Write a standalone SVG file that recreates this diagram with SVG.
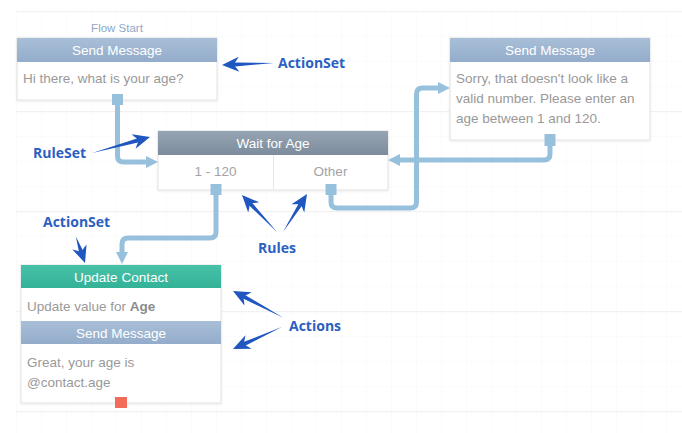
<svg xmlns="http://www.w3.org/2000/svg" width="682" height="433" viewBox="0 0 682 433">
<defs>
<pattern id="minor" x="16" y="11" width="25" height="25" patternUnits="userSpaceOnUse">
<path d="M0,0 H25 M0,0 V25" fill="none" stroke="#f8f8f8" stroke-width="1"/>
</pattern>
<pattern id="major" x="16" y="11" width="100" height="100" patternUnits="userSpaceOnUse">
<path d="M0,0.5 H100" fill="none" stroke="#f1f1f1" stroke-width="1.5"/>
</pattern>
<linearGradient id="gSend" x1="0" y1="0" x2="0" y2="1">
<stop offset="0" stop-color="#a9bfd8"/><stop offset="1" stop-color="#93acca"/>
</linearGradient>
<linearGradient id="gRule" x1="0" y1="0" x2="0" y2="1">
<stop offset="0" stop-color="#96a4b3"/><stop offset="1" stop-color="#7d8c9d"/>
</linearGradient>
<linearGradient id="gUpd" x1="0" y1="0" x2="0" y2="1">
<stop offset="0" stop-color="#47c2a9"/><stop offset="1" stop-color="#33b298"/>
</linearGradient>
<filter id="sh" x="-10%" y="-10%" width="120%" height="130%">
<feDropShadow dx="0" dy="1" stdDeviation="1" flood-color="#000" flood-opacity="0.08"/>
</filter>
</defs>
<style>
.box{fill:#fff;stroke:#e2e2e2;stroke-width:1}
.hd{font-family:"Liberation Sans",Arial,sans-serif;font-size:13.5px;fill:#fff;text-anchor:middle}
.bd{font-family:"Liberation Sans",Arial,sans-serif;font-size:13.5px;fill:#999}
.rl{font-family:"Liberation Sans",Arial,sans-serif;font-size:13.5px;fill:#a3a3a3;text-anchor:middle}
.sq{fill:#97c0dd}
.conn{fill:none;stroke:#97c0dd;stroke-width:5;stroke-linejoin:round}
.ah{fill:#97c0dd}
.note{font-family:"Open Sans","DejaVu Sans",sans-serif;font-weight:bold;font-size:14px;fill:#2b5fc2}
.narrow{fill:#1f56c0}
</style>
<rect width="682" height="433" fill="#fff"/>
<rect x="16" y="11" width="666" height="422" fill="url(#minor)"/>
<rect x="16" y="11" width="666" height="422" fill="url(#major)"/>

<text x="117" y="32" font-family="'Liberation Sans',Arial,sans-serif" font-size="11.5" fill="#8ea7c9" text-anchor="middle">Flow Start</text>

<g id="node-send1">
<rect class="box" x="17" y="38" width="200" height="62" filter="url(#sh)"/>
<rect x="17" y="38" width="200" height="24" fill="url(#gSend)"/>
<text class="hd" x="117" y="55">Send Message</text>
<text class="bd" x="23" y="83">Hi there, what is your age?</text>
<rect class="sq" x="112" y="94" width="11" height="11"/>
</g>

<g id="node-ruleset">
<rect class="box" x="158" y="131" width="230" height="59" filter="url(#sh)"/>
<rect x="158" y="131" width="230" height="24" fill="url(#gRule)"/>
<text class="hd" x="273" y="148">Wait for Age</text>
<line x1="273.5" y1="155" x2="273.5" y2="190" stroke="#e6e6e6"/>
<text class="rl" x="215.5" y="176">1 - 120</text>
<text class="rl" x="330.5" y="176">Other</text>
<rect class="sq" x="210.5" y="184" width="11" height="11"/>
<rect class="sq" x="325.5" y="184" width="11" height="11"/>
</g>

<g id="node-send2">
<rect class="box" x="450" y="38" width="200" height="102" filter="url(#sh)"/>
<rect x="450" y="38" width="200" height="24" fill="url(#gSend)"/>
<text class="hd" x="550" y="55">Send Message</text>
<text class="bd" x="456" y="83">Sorry, that doesn't look like a</text>
<text class="bd" x="456" y="103">valid number. Please enter an</text>
<text class="bd" x="456" y="123">age between 1 and 120.</text>
<rect class="sq" x="544.5" y="134" width="11" height="12"/>
</g>

<g id="node-actionset2">
<rect class="box" x="21" y="265" width="200" height="138" filter="url(#sh)"/>
<rect x="21" y="265" width="200" height="23" fill="url(#gUpd)"/>
<text class="hd" x="121" y="282">Update Contact</text>
<text class="bd" x="27" y="311">Update value for <tspan font-weight="bold" fill="#8c8c8c">Age</tspan></text>
<rect x="21" y="321" width="200" height="23" fill="url(#gSend)"/>
<text class="hd" x="121" y="338">Send Message</text>
<text class="bd" x="27" y="367">Great, your age is</text>
<text class="bd" x="27" y="387">@contact.age</text>
<rect x="115" y="397" width="12" height="11" fill="#f26b5b"/>
</g>

<g id="connectors">
<path class="conn" d="M117.5,105 V156 Q117.5,162 123.5,162 H147"/>
<polygon class="ah" points="158,162 146,156 146,168"/>
<path class="conn" d="M216,195 V232 Q216,238 210,238 H128 Q122,238 122,244 V253"/>
<polygon class="ah" points="122,264 116,252 128,252"/>
<path class="conn" d="M331,195 V202 Q331,208 337,208 H410.5 Q416.5,208 416.5,202 V94 Q416.5,88 422.5,88 H439"/>
<polygon class="ah" points="450,88 438,82 438,94"/>
<path class="conn" d="M550,146 V154 Q550,160 544,160 H399"/>
<polygon class="ah" points="388,160 400,154 400,166"/>
</g>

<g id="annotations">
<text class="note" x="278" y="68">ActionSet</text>
<path class="narrow" transform="translate(222,65) rotate(177.8)" d="M0,0 L-17,-7.5 Q-14.5,-3.5 -13,-2 L-52,0 L-13,2 Q-14.5,3.5 -17,7.5 Z"/>
<text class="note" x="33" y="158">RuleSet</text>
<path class="narrow" transform="translate(150,137) rotate(-15.4)" d="M0,0 L-17,-7.5 Q-14.5,-3.5 -13,-2 L-60,0 L-13,2 Q-14.5,3.5 -17,7.5 Z"/>
<text class="note" x="43" y="227">ActionSet</text>
<path class="narrow" transform="translate(85,263) rotate(70.9)" d="M0,0 L-17,-7.5 Q-14.5,-3.5 -13,-2 L-28,0 L-13,2 Q-14.5,3.5 -17,7.5 Z"/>
<text class="note" x="258" y="253">Rules</text>
<path class="narrow" transform="translate(242,195) rotate(-133.4)" d="M0,0 L-17,-7.5 Q-14.5,-3.5 -13,-2 L-51,0 L-13,2 Q-14.5,3.5 -17,7.5 Z"/>
<path class="narrow" transform="translate(307,194) rotate(-57.7)" d="M0,0 L-17,-7.5 Q-14.5,-3.5 -13,-2 L-45,0 L-13,2 Q-14.5,3.5 -17,7.5 Z"/>
<text class="note" x="289" y="331">Actions</text>
<path class="narrow" transform="translate(233,291) rotate(-152.1)" d="M0,0 L-17,-7.5 Q-14.5,-3.5 -13,-2 L-57,0 L-13,2 Q-14.5,3.5 -17,7.5 Z"/>
<path class="narrow" transform="translate(233,349) rotate(155.8)" d="M0,0 L-17,-7.5 Q-14.5,-3.5 -13,-2 L-54,0 L-13,2 Q-14.5,3.5 -17,7.5 Z"/>
</g>
</svg>
